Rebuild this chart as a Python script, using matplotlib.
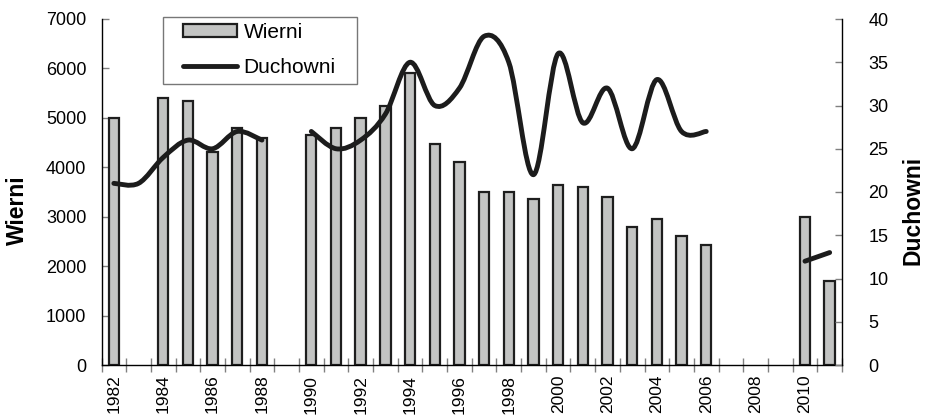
import numpy as np
import matplotlib
matplotlib.use("Agg")
import matplotlib.pyplot as plt
from matplotlib.path import Path
from matplotlib.patches import PathPatch, Rectangle
from matplotlib.lines import Line2D

plt.rcParams['font.family'] = ['Liberation Sans', 'DejaVu Sans']

nan = np.nan
years = list(range(1982, 2012))
wierni = [5000, nan, 5400, 5350, 4300, 4800, 4600, nan, 4650, 4800,
          5000, 5250, 5900, 4480, 4100, 3500, 3500, 3350, 3650, 3600,
          3400, 2800, 2950, 2600, 2420, nan, nan, nan, 3000, 1700]
duchowni = [21, 21, 24, 26, 25, 27, 26, nan, 27, 25,
            26, 29, 35, 30, 32, 38, 35, 22, 36, 28,
            32, 25, 33, 27, 27, nan, nan, nan, 12, 13]
tick_labels = [str(y) if (y - 1982) % 2 == 0 else "" for y in years]

W, H = 926, 416
fig = plt.figure(figsize=(W / 100, H / 100), dpi=100)
ax = fig.add_axes([101.5 / W, 1 - 365 / H, (842 - 101.5) / W, (365 - 19) / H])
ax2 = ax.twinx()

x = np.arange(len(years))
wv = np.array(wierni, dtype=float)
mask = ~np.isnan(wv)
ax.bar(x[mask], wv[mask], width=0.42, color='#c3c4c3', edgecolor='#1e1e1e',
       linewidth=1.6, zorder=2)

# Smoothed line (Excel-like Bezier through data points), per contiguous segment
dv = np.array(duchowni, dtype=float)
segments = []
cur = []
for i, v in enumerate(dv):
    if np.isnan(v):
        if cur:
            segments.append(cur)
        cur = []
    else:
        cur.append((float(i), v))
if cur:
    segments.append(cur)

for seg in segments:
    P = np.array(seg)
    n = len(P)
    verts = [tuple(P[0])]
    codes = [Path.MOVETO]
    for i in range(n - 1):
        pm = P[i - 1] if i > 0 else P[i]
        pp = P[i + 2] if i + 2 < n else P[i + 1]
        c1 = P[i] + (P[i + 1] - pm) / 6.0
        c2 = P[i + 1] - (pp - P[i]) / 6.0
        verts += [tuple(c1), tuple(c2), tuple(P[i + 1])]
        codes += [Path.CURVE4] * 3
    ax2.add_patch(PathPatch(Path(verts, codes), fill=False, edgecolor='#1c1c1c',
                            linewidth=3.5, capstyle='round', joinstyle='round', zorder=3))

ax.set_xlim(-0.5, len(years) - 0.5)
ax.set_ylim(0, 7000)
ax2.set_ylim(0, 40)
ax.set_yticks(np.arange(0, 7001, 1000))
ax2.set_yticks(np.arange(0, 41, 5))

ax.set_xticks(x)
ax.set_xticklabels(tick_labels, rotation=90, fontsize=12.5)
ax.set_xticks(np.arange(-0.5, len(years), 1.0), minor=True)
ax.tick_params(axis='x', which='major', length=0, pad=7)
ax.tick_params(axis='x', which='minor', direction='inout', length=10, color='#808080', width=1)
ax.tick_params(axis='y', direction='in', length=5, color='#808080', width=1, labelsize=13, pad=11)
ax2.tick_params(axis='y', direction='in', length=5, color='#808080', width=1, labelsize=13, pad=19)
ax2.tick_params(axis='x', which='both', length=0)

for a in (ax, ax2):
    a.spines['top'].set_visible(False)
    for s in ('left', 'right', 'bottom'):
        a.spines[s].set_linewidth(1.0)
        a.spines[s].set_color('#000000')
ax.spines['right'].set_visible(False)
ax2.spines['left'].set_visible(False)
ax2.spines['bottom'].set_visible(False)

fig.text(17 / W, 1 - 210 / H, 'Wierni', rotation=90, fontsize=16.5, fontweight='bold',
         ha='center', va='center')
fig.text(913 / W, 1 - 210 / H, 'Duchowni', rotation=90, fontsize=16.5, fontweight='bold',
         ha='center', va='center')

# Legend
fig.patches.append(Rectangle((162.7 / W, 1 - 84 / H), (356.7 - 162.7) / W, (84 - 17.3) / H,
                             transform=fig.transFigure, facecolor='white',
                             edgecolor='#777777', linewidth=1.0, zorder=5))
handles = [Rectangle((0, 0), 1, 1, facecolor='#c3c4c3', edgecolor='#1e1e1e', linewidth=1.6),
           Line2D([], [], color='#1c1c1c', linewidth=3.5, solid_capstyle='round')]
leg = fig.legend(handles, ['Wierni', 'Duchowni'], loc='upper left',
                 bbox_to_anchor=(183 / W, 1 - 23 / H), frameon=False, fontsize=15,
                 handlelength=2.6, handleheight=0.6, handletextpad=0.3,
                 labelspacing=0.78, borderpad=0, borderaxespad=0)
leg.set_zorder(6)

fig.savefig('out.png', dpi=100)
